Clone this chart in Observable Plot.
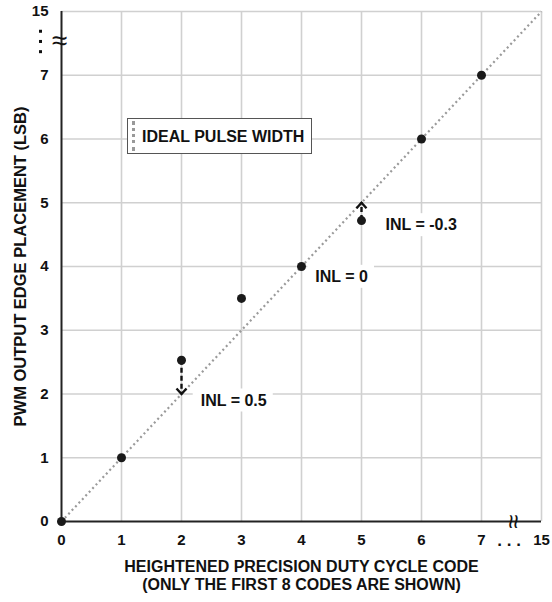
<!DOCTYPE html>
<html><head><meta charset="utf-8">
<script src="https://cdn.jsdelivr.net/npm/d3@7"></script>
<script src="https://cdn.jsdelivr.net/npm/@observablehq/plot@0.6"></script>
<style>
body{margin:0;background:#fff;}
#wrap{position:relative;width:552px;height:602px;font-family:"Liberation Sans",Arial,sans-serif;font-weight:bold;}
#legend{position:absolute;z-index:2;left:127px;top:118px;width:183px;height:34px;border:1px solid #555;background:#fff;}
#legend .sw{position:absolute;left:4px;top:2px;bottom:2px;border-left:3px dotted #999;}
#legend .lb{position:absolute;left:14px;top:0;line-height:35px;font-size:16px;color:#111;white-space:nowrap;}
</style></head>
<body><div id="wrap"><div id="legend"><span class="sw"></span><span class="lb">IDEAL PULSE WIDTH</span></div></div>
<script>
// ---- data ----
const codes = [0, 1, 2, 3, 4, 5, 6, 7];
const placement = [0, 1, 2.53, 3.5, 4, 4.72, 6, 7];
const tickValues = [0, 1, 2, 3, 4, 5, 6, 7, 8];
const tickLabels = ["0", "1", "2", "3", "4", "5", "6", "7", "15"];
const idealLine = [0, 8];
const breakAt = [7.53];
const yEllipsis = [7.69, 7.53, 7.37];
const xEllipsisAt = [7.46];
const inlText = ["INL = 0.5", "INL = -0.3", "INL = 0"];
const inlX = [2.32, 5.4, 4.23];
const inlY = [1.9, 4.65, 3.84];
const arrowCode = [2, 5];
const arrowFrom = [2.53, 4.72];
const arrowTo = [2, 5];
const xTitle = "HEIGHTENED PRECISION DUTY CYCLE CODE\n(ONLY THE FIRST 8 CODES ARE SHOWN)";
const yTitle = "PWM OUTPUT EDGE PLACEMENT (LSB)";

const fmt = d => tickLabels[tickValues.indexOf(d)];
const arrowIdx = arrowCode.map((_, i) => i);
const inlIdx = inlText.map((_, i) => i);

// chevron arrowhead symbol: tip at origin, wings above (pointing down)
const chevron = {
  draw(ctx) {
    ctx.moveTo(-5, -5.5);
    ctx.lineTo(0, 0);
    ctx.lineTo(5, -5.5);
  }
};

const chart = Plot.plot({
  width: 552, height: 602,
  marginTop: 11, marginRight: 11, marginBottom: 81, marginLeft: 61,
  x: {domain: [0, 8], label: null},
  y: {domain: [0, 8], label: null},
  style: {fontFamily: "'Liberation Sans', Arial, sans-serif", fontWeight: "bold", fontSize: "15px", color: "#111", background: "white", overflow: "visible"},
  marks: [
    Plot.ruleX(tickValues.slice(1), {stroke: "#d0d0d0", strokeWidth: 1.6}),
    Plot.ruleY(tickValues.slice(1), {stroke: "#d0d0d0", strokeWidth: 1.6}),
    Plot.line(idealLine, {x: d => d, y: d => d, stroke: "#9a9a9a", strokeWidth: 2.2, strokeDasharray: "2,3", strokeLinecap: "butt"}),
    Plot.text(inlIdx, {x: i => inlX[i], y: i => inlY[i], text: i => inlText[i], textAnchor: "start", fontSize: 16, fill: "#111"}),
    Plot.ruleX([0], {stroke: "#222", strokeWidth: 2}),
    Plot.ruleY([0], {stroke: "#222", strokeWidth: 2}),
    Plot.axisX(tickValues, {tickFormat: fmt, tickSize: 0, tickPadding: 13, label: null}),
    Plot.axisY(tickValues, {tickFormat: fmt, tickSize: 0, tickPadding: 13, label: null}),
    Plot.text(breakAt, {x: 0, y: d => d, text: () => "≈", fontSize: 28, fontWeight: "normal", dx: -2, fill: "#111"}),
    Plot.text(breakAt, {x: d => d, y: 0, text: () => "≈", fontSize: 26, fontWeight: "normal", rotate: 90, fill: "#111"}),
    Plot.dot(yEllipsis, {x: 0, y: d => d, dx: -21, symbol: "square", r: 1.7, fill: "#111", stroke: null}),
    Plot.text(xEllipsisAt, {x: d => d, y: 0, text: () => ". . .", fontSize: 17, dy: 19, fill: "#111"}),
    Plot.ruleX(arrowIdx, {x: i => arrowCode[i], y1: i => arrowFrom[i], y2: i => arrowTo[i], stroke: "#111", strokeWidth: 2.4, strokeDasharray: "5,3"}),
    Plot.dot(arrowIdx, {x: i => arrowCode[i], y: i => arrowTo[i], symbol: chevron, rotate: i => arrowFrom[i] > arrowTo[i] ? 0 : 180, fill: "none", stroke: "#111", strokeWidth: 2.4}),
    Plot.dot(codes, {x: d => d, y: (d, i) => placement[i], r: 4.5, fill: "#1a1a1a", stroke: null}),
    Plot.text([xTitle], {frameAnchor: "bottom", lineAnchor: "middle", dy: 54, fontSize: 16, lineHeight: 1.13, fill: "#111"}),
    Plot.text([yTitle], {frameAnchor: "left", textAnchor: "middle", dx: -41, rotate: -90, fontSize: 16.5, fill: "#111"})
  ]
});

document.getElementById("wrap").appendChild(chart);
chart.style.position = "absolute";
chart.style.left = "0"; chart.style.top = "0";

// white boxes behind INL annotations (hide gridlines)
const svgRect = chart.getBoundingClientRect();
const labels = Array.from(chart.querySelectorAll("text")).filter(t => t.textContent.startsWith("INL"));
if (labels.length) {
  const grp = labels[0].parentNode;
  const boxes = document.createElementNS("http://www.w3.org/2000/svg", "g");
  grp.parentNode.insertBefore(boxes, grp);
  labels.forEach(t => {
    const r = t.getBoundingClientRect();
    const rect = document.createElementNS("http://www.w3.org/2000/svg", "rect");
    rect.setAttribute("x", r.left - svgRect.left - 8);
    rect.setAttribute("y", r.top - svgRect.top - 3);
    rect.setAttribute("width", r.width + 14);
    rect.setAttribute("height", r.height + 6);
    rect.setAttribute("fill", "white");
    boxes.appendChild(rect);
  });
}
</script></body></html>
